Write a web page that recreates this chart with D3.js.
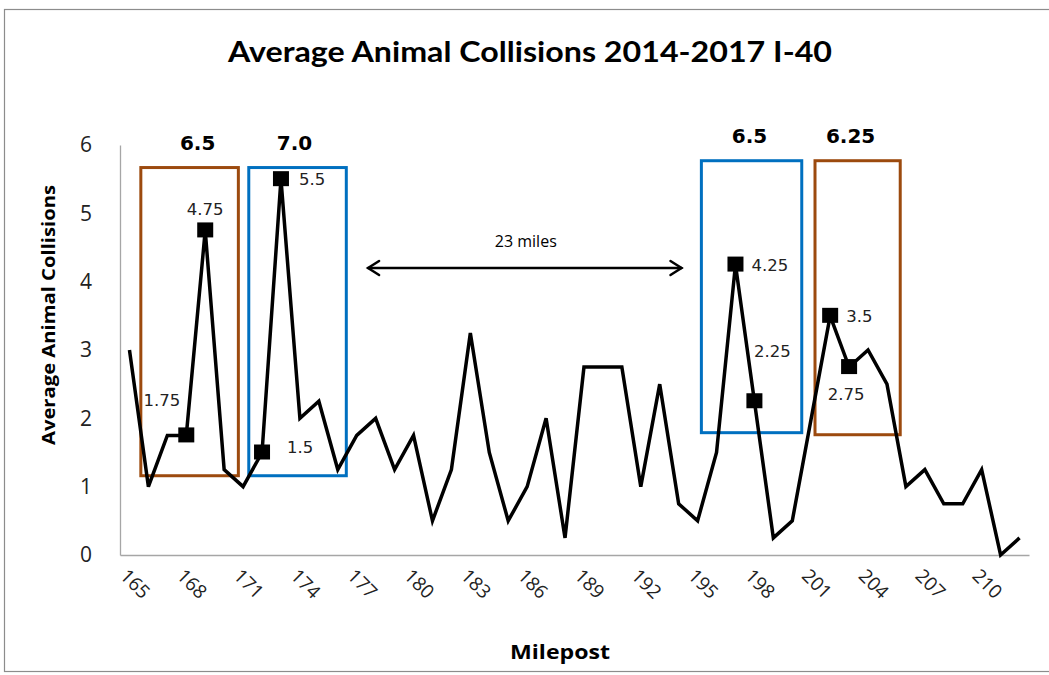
<!DOCTYPE html>
<html>
<head>
<meta charset="utf-8">
<script src="https://cdn.jsdelivr.net/npm/d3@7"></script>
<style>
  html, body { margin: 0; padding: 0; background: #fff; }
  svg { display: block; }
</style>
</head>
<body>
<svg id="chart" width="1049" height="675"></svg>
<script>
// ---- data ----
const mileposts = d3.range(165, 213); // 165 .. 212
const collisions = [
  3, 1, 1.75, 1.75, 4.75, 1.25, 1, 1.5, 5.5, 2,
  2.25, 1.25, 1.75, 2, 1.25, 1.75, 0.5, 1.25, 3.25, 1.5,
  0.5, 1, 2, 0.25, 2.75, 2.75, 2.75, 1, 2.5, 0.75,
  0.5, 1.5, 4.25, 2.25, 0.25, 0.5, 2, 3.5, 2.75, 3,
  2.5, 1, 1.25, 0.75, 0.75, 1.25, 0, 0.25
];
const tickLabels = [165, 168, 171, 174, 177, 180, 183, 186, 189, 192, 195, 198, 201, 204, 207, 210];
const yTicks = [0, 1, 2, 3, 4, 5, 6];
const highlighted = [168, 169, 172, 173, 197, 198, 202, 203];
const pointLabels = ["1.75", "4.75", "1.5", "5.5", "4.25", "2.25", "3.5", "2.75"];
const boxStart = [165.6, 171.3, 195.2, 201.2];
const boxEnd = [170.75, 176.45, 200.5, 205.7];
const boxTop = [5.67, 5.67, 5.77, 5.77];
const boxBottom = [1.16, 1.16, 1.79, 1.76];
const boxTotals = ["6.5", "7.0", "6.5", "6.25"];
const arrowFrom = 177.6, arrowTo = 194.15, arrowLevel = 4.2;
const arrowText = "23 miles";

// ---- layout / style ----
const svg = d3.select("#chart");
const plot = { left: 120, right: 1029, top: 145, bottom: 555 };
const brown = "#9C4A0E", blue = "#0070C0";
const boxColors = [brown, blue, blue, brown];
const boxLabelDx = [8, -3, -2, -7];
const labelOffsets = [
  { dx: -6, dy: -29, anchor: "end" },
  { dx: 0, dy: -15, anchor: "middle" },
  { dx: 25, dy: 0, anchor: "start" },
  { dx: 18, dy: 6, anchor: "start" },
  { dx: 16, dy: 6, anchor: "start" },
  { dx: 18, dy: -44, anchor: "middle" },
  { dx: 16, dy: 6, anchor: "start" },
  { dx: -3, dy: 33, anchor: "middle" }
];

// outer chart border
svg.append("rect")
  .attr("x", 4.5).attr("y", 9.5).attr("width", 1100).attr("height", 662)
  .attr("fill", "none").attr("stroke", "#8c8c8c").attr("stroke-width", 1.2);

const x = d3.scalePoint().domain(mileposts).range([plot.left, plot.right]).padding(0.5);
const step = x.step();
const xc = v => x(165) + (v - 165) * step; // continuous position in milepost units
const y = d3.scaleLinear().domain([0, 6]).range([plot.bottom, plot.top]);

// title
svg.append("text")
  .attr("x", 530).attr("y", 62)
  .attr("text-anchor", "middle")
  .attr("font-family", "Lato, 'Open Sans', sans-serif")
  .attr("font-weight", "bold").attr("font-size", 28)
  .attr("textLength", 604).attr("lengthAdjust", "spacingAndGlyphs")
  .attr("fill", "#000")
  .text("Average Animal Collisions 2014-2017 I-40");

// y axis
const yAxis = d3.axisLeft(y).tickValues(yTicks).tickSize(0).tickPadding(28).tickFormat(d3.format("d"));
const gy = svg.append("g").attr("transform", `translate(${plot.left},0)`).call(yAxis);
gy.select(".domain").attr("stroke", "#a6a6a6").attr("stroke-width", 1.3);
gy.selectAll("text")
  .attr("font-family", "'Open Sans', sans-serif").attr("font-size", 21).attr("fill", "#222");

// x axis
const xAxis = d3.axisBottom(x).tickValues(tickLabels).tickSize(0).tickFormat(d => d);
const gx = svg.append("g").attr("transform", `translate(0,${plot.bottom})`).call(xAxis);
gx.select(".domain").attr("stroke", "#a6a6a6").attr("stroke-width", 1.3);
gx.selectAll("text")
  .attr("font-family", "'Open Sans', sans-serif").attr("font-size", 19).attr("fill", "#222")
  .attr("text-anchor", "start")
  .attr("dy", 0).attr("y", 0)
  .attr("transform", "translate(-11,22) rotate(45)");

// axis titles
svg.append("text")
  .attr("transform", "translate(55,315) rotate(-90)")
  .attr("text-anchor", "middle")
  .attr("font-family", "'Open Sans', sans-serif")
  .attr("font-weight", "bold").attr("font-size", 18)
  .attr("textLength", 260).attr("lengthAdjust", "spacingAndGlyphs")
  .text("Average Animal Collisions");
svg.append("text")
  .attr("x", 560).attr("y", 659)
  .attr("text-anchor", "middle")
  .attr("font-family", "'Open Sans', sans-serif")
  .attr("font-weight", "bold").attr("font-size", 20)
  .attr("textLength", 100).attr("lengthAdjust", "spacingAndGlyphs")
  .text("Milepost");

// highlight boxes
const boxes = boxStart.map((s, i) => ({ s, e: boxEnd[i], t: boxTop[i], b: boxBottom[i], c: boxColors[i], lab: boxTotals[i], ldx: boxLabelDx[i] }));
svg.append("g").selectAll("rect").data(boxes).join("rect")
  .attr("x", d => xc(d.s)).attr("y", d => y(d.t))
  .attr("width", d => xc(d.e) - xc(d.s)).attr("height", d => y(d.b) - y(d.t))
  .attr("fill", "none").attr("stroke", d => d.c).attr("stroke-width", 3);
svg.append("g").selectAll("text").data(boxes).join("text")
  .attr("x", d => (xc(d.s) + xc(d.e)) / 2 + d.ldx)
  .attr("y", d => y(d.t) - 18)
  .attr("text-anchor", "middle")
  .attr("font-family", "'DejaVu Sans', sans-serif").attr("font-weight", "bold").attr("font-size", 20)
  .text(d => d.lab);

// arrow
const ay = y(arrowLevel), ax0 = xc(arrowFrom), ax1 = xc(arrowTo);
const ag = svg.append("g").attr("stroke", "#000").attr("stroke-width", 2.5).attr("fill", "none").attr("stroke-linecap", "round");
ag.append("line").attr("x1", ax0).attr("x2", ax1).attr("y1", ay).attr("y2", ay);
ag.append("path").attr("d", `M${ax0 + 11},${ay - 7} L${ax0},${ay} L${ax0 + 11},${ay + 7}`);
ag.append("path").attr("d", `M${ax1 - 11},${ay - 7} L${ax1},${ay} L${ax1 - 11},${ay + 7}`);
svg.append("text")
  .attr("x", (ax0 + ax1) / 2 + 1).attr("y", ay - 21)
  .attr("text-anchor", "middle")
  .attr("font-family", "'Open Sans', sans-serif").attr("font-size", 16)
  .text(arrowText);

// line
const series = mileposts.map((m, i) => ({ m, v: collisions[i] }));
svg.append("path").datum(series)
  .attr("fill", "none").attr("stroke", "#000").attr("stroke-width", 3.5)
  .attr("stroke-linejoin", "miter")
  .attr("d", d3.line().x(d => x(d.m)).y(d => y(d.v)));

// markers
const marks = highlighted.map((m, i) => ({ m, v: collisions[mileposts.indexOf(m)], lab: pointLabels[i], off: labelOffsets[i] }));
svg.append("g").selectAll("rect").data(marks).join("rect")
  .attr("x", d => x(d.m) - 8).attr("y", d => y(d.v) - 8)
  .attr("width", 16).attr("height", 15).attr("fill", "#000");
svg.append("g").selectAll("text").data(marks).join("text")
  .attr("x", d => x(d.m) + d.off.dx).attr("y", d => y(d.v) + d.off.dy)
  .attr("text-anchor", d => d.off.anchor)
  .attr("font-family", "'DejaVu Sans', sans-serif").attr("font-size", 16.5).attr("fill", "#222")
  .text(d => d.lab);
</script>
</body>
</html>
